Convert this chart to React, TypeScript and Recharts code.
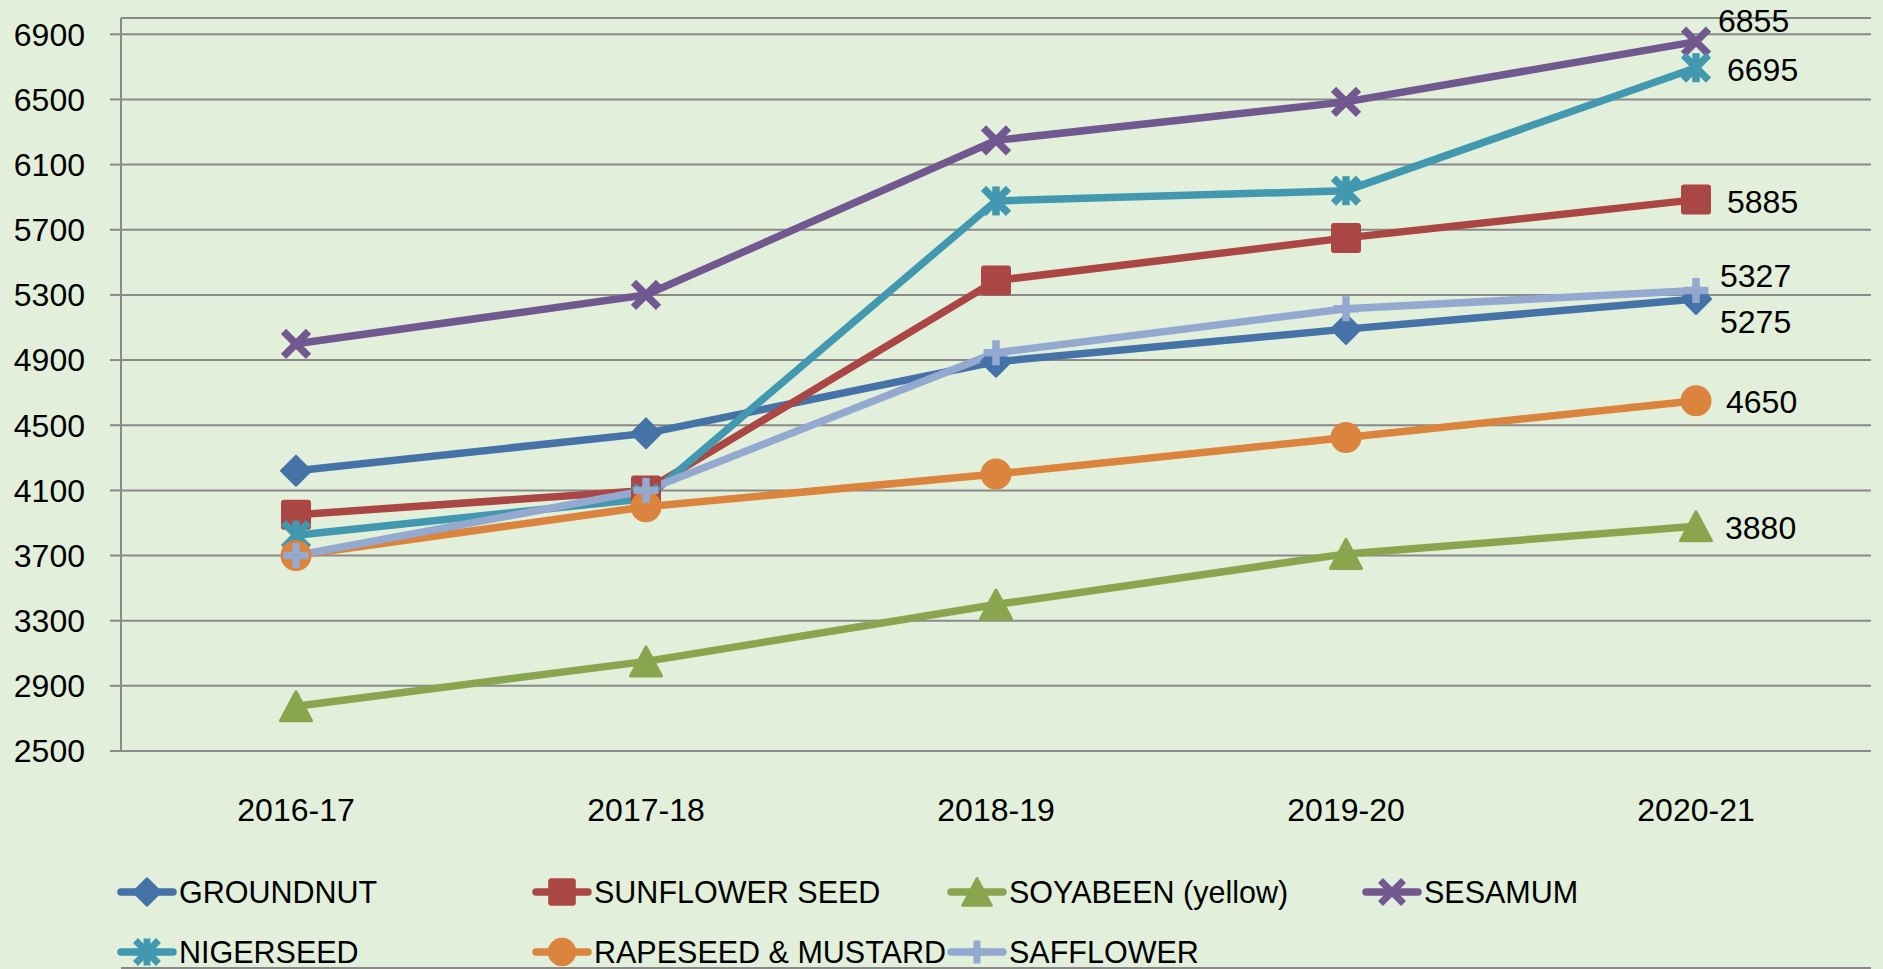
import React from 'react';
import { LineChart, Line, XAxis, YAxis, CartesianGrid, Legend, LabelList } from 'recharts';

const years = ['2016-17', '2017-18', '2018-19', '2019-20', '2020-21'];
const groundnut = [4220, 4450, 4890, 5090, 5275];
const sunflower = [3950, 4100, 5388, 5650, 5885];
const soyabean = [2775, 3050, 3399, 3710, 3880];
const sesamum = [5000, 5300, 6249, 6485, 6855];
const nigerseed = [3825, 4050, 5877, 5940, 6695];
const rapeseed = [3700, 4000, 4200, 4425, 4650];
const safflower = [3700, 4100, 4945, 5215, 5327];
const yTicks = [2500, 2900, 3300, 3700, 4100, 4500, 4900, 5300, 5700, 6100, 6500, 6900];
const yDomain = [2500, 7000];
const boundaryTicks = [0, 1, 2, 3, 4, 5];

const FONT = 'Liberation Sans, Arial, sans-serif';
const GRID = '#898989';
const BG = '#E2EFDA';

type MarkerType = 'diamond' | 'square' | 'triangle' | 'x' | 'star' | 'circle' | 'plus';

interface SeriesCfg {
  key: string;
  name: string;
  color: string;
  marker: MarkerType;
  values: number[];
  labelDx: number;
  labelDy: number;
}

const series: SeriesCfg[] = [
  { key: 'groundnut', name: 'GROUNDNUT', color: '#4572A7', marker: 'diamond', values: groundnut, labelDx: 24, labelDy: 23 },
  { key: 'sunflower', name: 'SUNFLOWER SEED', color: '#AA4643', marker: 'square', values: sunflower, labelDx: 31, labelDy: 2 },
  { key: 'soyabean', name: 'SOYABEEN (yellow)', color: '#89A54E', marker: 'triangle', values: soyabean, labelDx: 29, labelDy: 2 },
  { key: 'sesamum', name: 'SESAMUM', color: '#71588F', marker: 'x', values: sesamum, labelDx: 22, labelDy: -21 },
  { key: 'nigerseed', name: 'NIGERSEED', color: '#4198AF', marker: 'star', values: nigerseed, labelDx: 31, labelDy: 2 },
  { key: 'rapeseed', name: 'RAPESEED & MUSTARD', color: '#DB843D', marker: 'circle', values: rapeseed, labelDx: 30, labelDy: 1 },
  { key: 'safflower', name: 'SAFFLOWER', color: '#93A9CF', marker: 'plus', values: safflower, labelDx: 24, labelDy: -15 },
];

const data = years.map((year, i) => {
  const row: Record<string, string | number> = { year };
  series.forEach((s) => {
    row[s.key] = s.values[i];
  });
  return row;
});

function Marker({ type, cx, cy, color, s = 1 }: { type: MarkerType; cx: number; cy: number; color: string; s?: number }) {
  switch (type) {
    case 'diamond': {
      const r = 15 * s;
      return (
        <path
          d={`M${cx},${cy - r}L${cx + r},${cy}L${cx},${cy + r}L${cx - r},${cy}Z`}
          fill={color}
          stroke={color}
          strokeWidth={2}
          strokeLinejoin="round"
        />
      );
    }
    case 'square': {
      const h = 15 * s;
      return <rect x={cx - h} y={cy - h} width={2 * h} height={2 * h} rx={3} fill={color} />;
    }
    case 'triangle': {
      const w = 15.5 * s;
      const h = 14.5 * s;
      return (
        <path
          d={`M${cx},${cy - h}L${cx + w},${cy + h}L${cx - w},${cy + h}Z`}
          fill={color}
          stroke={color}
          strokeWidth={3}
          strokeLinejoin="round"
        />
      );
    }
    case 'x': {
      const r = 12.5 * s;
      return (
        <g stroke={color} strokeWidth={7.5 * s} strokeLinecap="butt">
          <line x1={cx - r} y1={cy - r} x2={cx + r} y2={cy + r} />
          <line x1={cx - r} y1={cy + r} x2={cx + r} y2={cy - r} />
        </g>
      );
    }
    case 'star': {
      const r = 12.5 * s;
      return (
        <g stroke={color} strokeWidth={7.5 * s} strokeLinecap="butt">
          <line x1={cx - r} y1={cy - r} x2={cx + r} y2={cy + r} />
          <line x1={cx - r} y1={cy + r} x2={cx + r} y2={cy - r} />
          <line x1={cx} y1={cy - r - 2} x2={cx} y2={cy + r + 2} />
        </g>
      );
    }
    case 'circle':
      return <circle cx={cx} cy={cy} r={15.5 * s} fill={color} />;
    case 'plus': {
      const r = 12.5 * s;
      return (
        <g stroke={color} strokeWidth={7.5 * s}>
          <line x1={cx - r} y1={cy} x2={cx + r} y2={cy} />
          <line x1={cx} y1={cy - r} x2={cx} y2={cy + r} />
        </g>
      );
    }
  }
  return null;
}

const colLeft = 117;
const colStep = 415;
const rowCenters = [32, 92];

function renderLegend() {
  return (
    <div style={{ position: 'relative', width: 1883, height: 120 }}>
      {series.map((s, i) => {
        const col = i % 4;
        const row = Math.floor(i / 4);
        return (
          <div
            key={s.key}
            style={{
              position: 'absolute',
              left: colLeft + col * colStep,
              top: rowCenters[row] - 20,
              height: 40,
              display: 'flex',
              alignItems: 'center',
              whiteSpace: 'nowrap',
            }}
          >
            <svg width={60} height={40} style={{ display: 'block' }}>
              <line x1={4} y1={20} x2={56} y2={20} stroke={s.color} strokeWidth={7.5} strokeLinecap="round" />
              <Marker type={s.marker} cx={30} cy={20} color={s.color} s={0.92} />
            </svg>
            <span style={{ fontFamily: FONT, fontSize: 30.5, color: '#000', marginLeft: 2, lineHeight: '40px' }}>{s.name}</span>
          </div>
        );
      })}
    </div>
  );
}

export default function App() {
  return (
    <div style={{ position: 'absolute', left: 0, top: 0, width: 1883, height: 969, background: BG, overflow: 'hidden' }}>
      <LineChart width={1883} height={969} data={data} margin={{ top: 18, right: 12, bottom: 0, left: 0 }}>
        <CartesianGrid xAxisId="b" vertical={false} stroke={GRID} strokeWidth={2} />
        <XAxis
          xAxisId="b"
          type="number"
          domain={[0, 5]}
          ticks={boundaryTicks}
          allowDataOverflow
          height={1}
          tick={false}
          tickSize={11}
          axisLine={{ stroke: GRID, strokeWidth: 2 }}
          tickLine={{ stroke: GRID, strokeWidth: 2 }}
        />
        <XAxis
          xAxisId="a"
          dataKey="year"
          scale="band"
          height={217}
          tickLine={false}
          axisLine={false}
          tickSize={0}
          tickMargin={47}
          interval={0}
          tick={{ fill: '#000', fontSize: 32, fontFamily: FONT }}
        />
        <YAxis
          width={121}
          domain={yDomain}
          ticks={yTicks}
          allowDataOverflow
          tickSize={11}
          tickMargin={25}
          axisLine={{ stroke: GRID, strokeWidth: 2 }}
          tickLine={{ stroke: GRID, strokeWidth: 2 }}
          tick={{ fill: '#000', fontSize: 32, fontFamily: FONT }}
        />
        <Legend
          layout="horizontal"
          verticalAlign="middle"
          align="center"
          wrapperStyle={{ top: 860, left: 0, width: 1883, height: 120 }}
          content={renderLegend}
        />
        {series.map((s) => (
          <Line
            key={s.key}
            xAxisId="a"
            type="linear"
            dataKey={s.key}
            name={s.name}
            stroke={s.color}
            strokeWidth={7.5}
            isAnimationActive={false}
            activeDot={false}
            dot={(p: any) => <Marker key={`${s.key}-${p.index}`} type={s.marker} cx={p.cx} cy={p.cy} color={s.color} />}
          >
            <LabelList
              dataKey={s.key}
              content={(p: any) =>
                p.index === s.values.length - 1 ? (
                  <text
                    x={Number(p.x) + s.labelDx}
                    y={Number(p.y) + s.labelDy}
                    dy="0.35em"
                    textAnchor="start"
                    fill="#000"
                    fontSize={32}
                    fontFamily={FONT}
                  >
                    {p.value}
                  </text>
                ) : null
              }
            />
          </Line>
        ))}
      </LineChart>
    </div>
  );
}
